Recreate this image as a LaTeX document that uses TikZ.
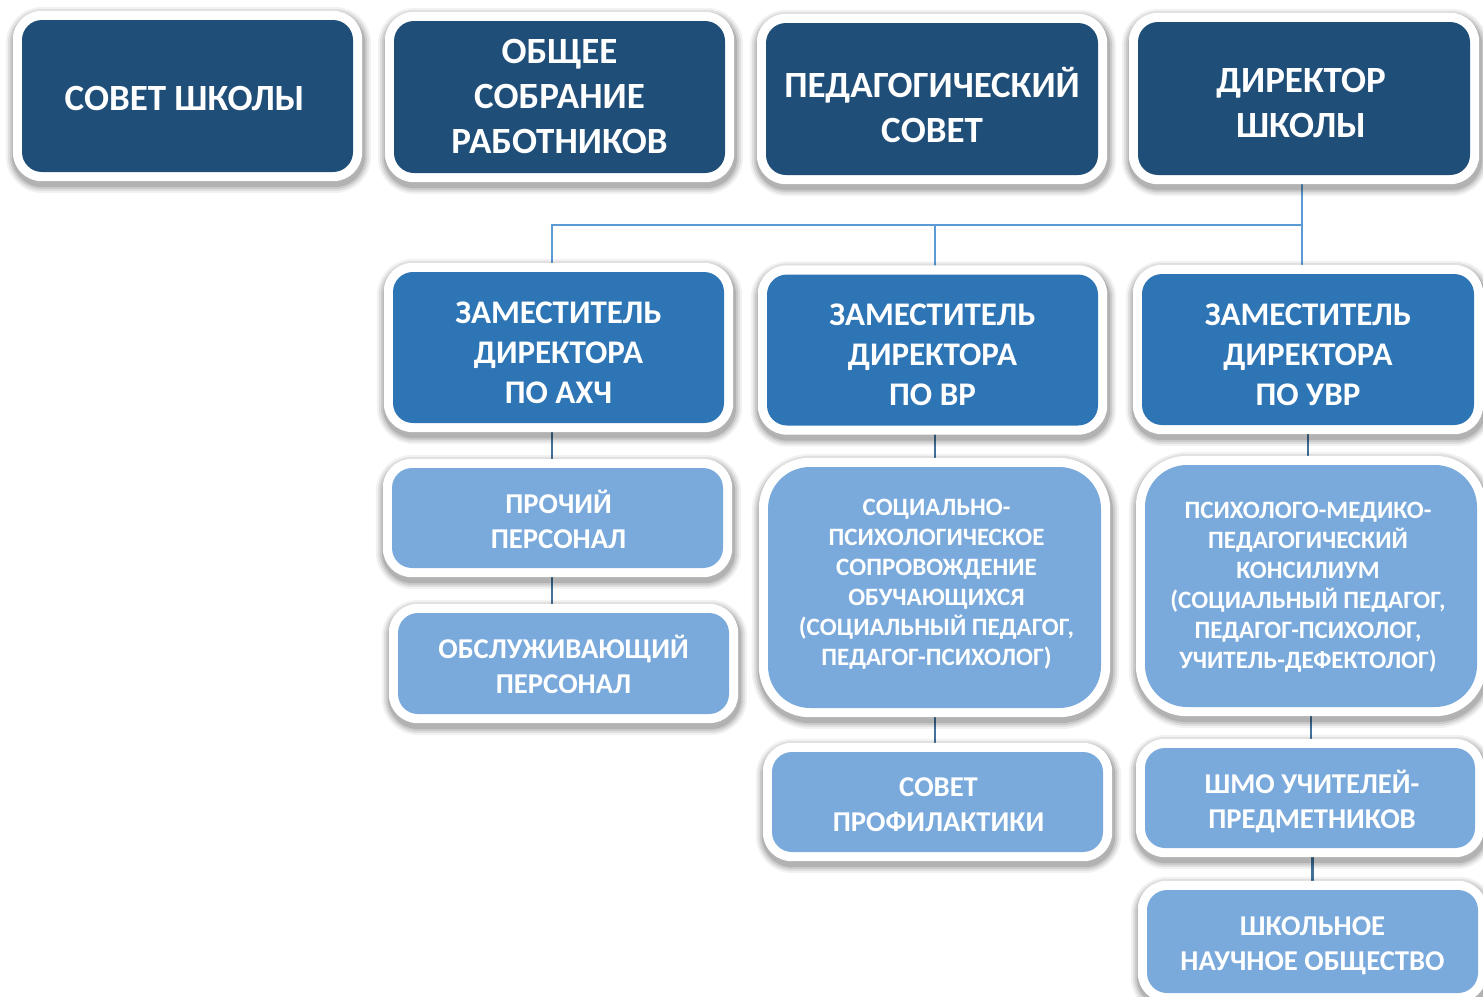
\documentclass[tikz,border=0pt]{standalone}
\usepackage{fontspec}
\setmainfont{Carlito}
\usetikzlibrary{backgrounds}
\definecolor{dk}{RGB}{31,78,121}
\definecolor{md}{RGB}{46,117,182}
\definecolor{lt}{RGB}{122,170,220}
\definecolor{lnA}{RGB}{91,155,213}
\definecolor{lnB}{RGB}{65,113,156}
\tikzset{
  basebox/.style={inner sep=0pt, rounded corners=20pt},
  dbox/.style={basebox, fill=dk},
  mbox/.style={basebox, fill=md},
  lbox/.style={basebox, fill=lt},
  sbox/.style={basebox, fill=lt, rounded corners=42pt},
  basetxt/.style={text=white, align=center, inner sep=0pt},
  dtxt/.style={basetxt, font=\fontsize{37}{45}\selectfont\bfseries},
  mtxt/.style={basetxt, font=\fontsize{33}{40}\selectfont\bfseries},
  ltxt/.style={basetxt, font=\fontsize{28.7}{35}\selectfont\bfseries},
  stxt/.style={basetxt, font=\fontsize{25}{30}\selectfont\bfseries},
  topline/.style={draw=lnA, line width=2.4pt},
  lowline/.style={draw=lnB, line width=2.8pt},
}
\newcommand\frm[2]{% #1 node name, #2 outer radius
  \foreach \k/\o in {8/0.05,6/0.07,4/0.09,2/0.12}{
    \fill[black,opacity=\o,rounded corners={(#2+\k)*1pt}]
      ([shift={(-9-\k+1,-9-\k+4)}]#1.north west) rectangle ([shift={(9+\k+1,9+\k+4)}]#1.south east);}
  \fill[white,rounded corners=#2pt]
    ([shift={(-9,-9)}]#1.north west) rectangle ([shift={(9,9)}]#1.south east);
}
\begin{document}
\begin{tikzpicture}[x=1pt,y=-1pt]
\useasboundingbox (0,0) rectangle (1483,996);
% top row
\node[dbox, minimum width=331, minimum height=152] (sovet) at (187.5,96) {};
\node[dbox, minimum width=331, minimum height=152] (obsh) at (559.5,97) {};
\node[dbox, minimum width=332, minimum height=152] (ped) at (932,99) {};
\node[dbox, minimum width=332, minimum height=153] (dir) at (1304,98.5) {};
% deputies
\node[mbox, minimum width=331, minimum height=151] (axch) at (558.5,347.5) {};
\node[mbox, minimum width=331, minimum height=151] (vr) at (932.5,350) {};
\node[mbox, minimum width=332, minimum height=151] (uvr) at (1308,349.5) {};
% lower boxes
\node[lbox, minimum width=331, minimum height=100] (proch) at (557.5,518) {};
\node[lbox, minimum width=331, minimum height=101] (obsl) at (563.5,663.5) {};
\node[sbox, minimum width=333, minimum height=241] (soc) at (934.5,587.5) {};
\node[sbox, minimum width=332, minimum height=242] (psych) at (1311,586) {};
\node[lbox, minimum width=331, minimum height=100] (proph) at (937.5,802) {};
\node[lbox, minimum width=330, minimum height=100] (shmo) at (1310,798) {};
\node[lbox, minimum width=331, minimum height=103] (shkol) at (1312.5,941.5) {};
% texts
\node[dtxt] (sovet-t) at ([shift={(-3,2)}]sovet.center) {СОВЕТ ШКОЛЫ};
\node[dtxt] (obsh-t) at ([shift={(0,-1)}]obsh.center) {ОБЩЕЕ\\СОБРАНИЕ\\РАБОТНИКОВ};
\node[dtxt] (ped-t) at ([shift={(0,6)}]ped.center) {ПЕДАГОГИЧЕСКИЙ\\СОВЕТ};
\node[dtxt] (dir-t) at ([shift={(-3,4)}]dir.center) {ДИРЕКТОР\\ШКОЛЫ};
\node[mtxt] (axch-t) at ([shift={(0,5)}]axch.center) {ЗАМЕСТИТЕЛЬ\\ДИРЕКТОРА\\ПО АХЧ};
\node[mtxt] (vr-t) at ([shift={(0,5)}]vr.center) {ЗАМЕСТИТЕЛЬ\\ДИРЕКТОРА\\ПО ВР};
\node[mtxt] (uvr-t) at ([shift={(0,5)}]uvr.center) {ЗАМЕСТИТЕЛЬ\\ДИРЕКТОРА\\ПО УВР};
\node[ltxt] (proch-t) at ([shift={(1,1)}]proch.center) {ПРОЧИЙ\\ПЕРСОНАЛ};
\node[ltxt] (obsl-t) at ([shift={(0,1)}]obsl.center) {ОБСЛУЖИВАЮЩИЙ\\ПЕРСОНАЛ};
\node[stxt] (soc-t) at ([shift={(2,-3)}]soc.center) {СОЦИАЛЬНО-\\ПСИХОЛОГИЧЕСКОЕ\\СОПРОВОЖДЕНИЕ\\ОБУЧАЮЩИХСЯ\\(СОЦИАЛЬНЫЙ ПЕДАГОГ,\\ПЕДАГОГ-ПСИХОЛОГ)};
\node[stxt] (psych-t) at ([shift={(-3,1)}]psych.center) {ПСИХОЛОГО-МЕДИКО-\\ПЕДАГОГИЧЕСКИЙ\\КОНСИЛИУМ\\(СОЦИАЛЬНЫЙ ПЕДАГОГ,\\ПЕДАГОГ-ПСИХОЛОГ,\\УЧИТЕЛЬ-ДЕФЕКТОЛОГ)};
\node[ltxt] (proph-t) at ([shift={(1,3)}]proph.center) {СОВЕТ\\ПРОФИЛАКТИКИ};
\node[ltxt] (shmo-t) at ([shift={(2,3)}]shmo.center) {ШМО УЧИТЕЛЕЙ-\\ПРЕДМЕТНИКОВ};
\node[ltxt] (shkol-t) at ([shift={(0,4)}]shkol.center) {ШКОЛЬНОЕ\\НАУЧНОЕ ОБЩЕСТВО};
% helper coordinates
\coordinate (hy) at (0,225);
\coordinate (cA) at (552,0);
\coordinate (cB) at (935,0);
\coordinate (cD) at (1302,0);
\begin{scope}[on background layer]
  \fill[white] (0,0) rectangle (1483,996);
  % connectors
  \draw[topline] (dir.south -| cD) -- (cD |- hy) -- (cA |- hy) -- (axch.north -| cA);
  \draw[topline] (cD |- hy) -- (uvr.north -| cD);
  \draw[topline] (cB |- hy) -- (vr.north -| cB);
  \draw[lowline] (axch.south -| cA) -- (proch.north -| cA);
  \draw[lowline] (proch.south -| cA) -- (obsl.north -| cA);
  \draw[lowline] (vr.south -| cB) -- (soc.north -| cB);
  \draw[lowline] (soc.south -| cB) -- (proph.north -| cB);
  \draw[lowline] (uvr.south) -- (uvr.south |- psych.north);
  \draw[lowline] (psych.south) -- (psych.south |- shmo.north);
  \draw[lowline] (shmo.south -| shkol.north) -- (shkol.north);
  % frames
  \frm{sovet}{29}\frm{obsh}{29}\frm{ped}{29}\frm{dir}{29}
  \frm{axch}{29}\frm{vr}{29}\frm{uvr}{29}
  \frm{proch}{29}\frm{obsl}{29}\frm{soc}{51}\frm{psych}{51}
  \frm{proph}{29}\frm{shmo}{29}\frm{shkol}{29}
\end{scope}
\end{tikzpicture}
\end{document}
